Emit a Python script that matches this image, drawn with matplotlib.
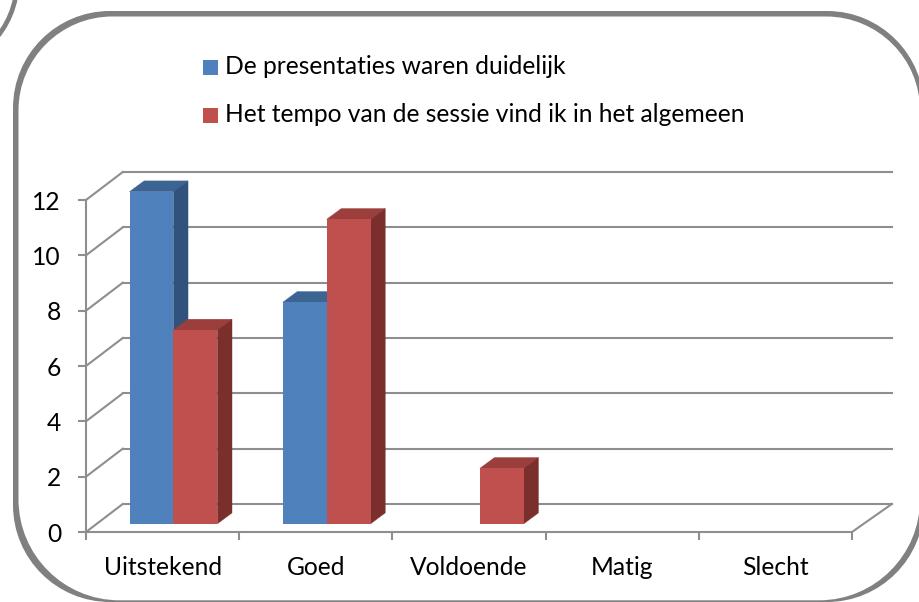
import matplotlib
matplotlib.use("Agg")
import matplotlib.pyplot as plt
from matplotlib.patches import Circle, PathPatch, Polygon, Rectangle
from matplotlib.path import Path

plt.rcParams["font.family"] = ["Lato", "DejaVu Sans"]

categories = ["Uitstekend", "Goed", "Voldoende", "Matig", "Slecht"]
presentaties = [12, 8, 0, 0, 0]
tempo = [7, 11, 2, 0, 0]
series_names = ["De presentaties waren duidelijk", "Het tempo van de sessie vind ik in het algemeen"]
yticks = [0, 2, 4, 6, 8, 10, 12]

W, H = 919, 602
FS = 17.7
GRID = "#8e8e8e"
FRAME = "#808080"
BLUE = ("#4f81bd", "#3c6493", "#30527c")
RED = ("#c0504d", "#9b3e3c", "#7a2f2d")


def rounded(l, t, r, b, rad, rad_b):
    k = rad * 0.4477
    kb = rad_b * 0.4477
    verts = [(l + rad, t), (r - rad, t), (r - k, t), (r, t + k), (r, t + rad),
             (r, b - rad_b), (r, b - kb), (r - kb, b), (r - rad_b, b),
             (l + rad_b, b), (l + kb, b), (l, b - kb), (l, b - rad_b),
             (l, t + rad), (l, t + k), (l + k, t), (l + rad, t)]
    codes = [Path.MOVETO, Path.LINETO, Path.CURVE4, Path.CURVE4, Path.CURVE4,
             Path.LINETO, Path.CURVE4, Path.CURVE4, Path.CURVE4,
             Path.LINETO, Path.CURVE4, Path.CURVE4, Path.CURVE4,
             Path.LINETO, Path.CURVE4, Path.CURVE4, Path.CURVE4]
    return Path(verts, codes)


fig = plt.figure(figsize=(W / 100, H / 100), dpi=100)

# frame and legend live in pixel coords
bg = fig.add_axes([0, 0, 1, 1])
bg.set_xlim(0, W)
bg.set_ylim(H, 0)
bg.axis("off")
bg.add_patch(PathPatch(rounded(13, 11, 924, 602, 97, 97), fc=FRAME, ec="none"))
bg.add_patch(PathPatch(rounded(18.5, 16.5, 920, 600.3, 94, 101), fc="white", ec="none"))
bg.add_patch(Circle((-72.8, -19.7), 90, fc="none", ec=FRAME, lw=3.4))

for y, name, col in zip([67, 115], series_names, [BLUE[0], RED[0]]):
    bg.add_patch(Rectangle((203, y - 7.5), 15, 15, fc=col, ec="none"))
    bg.text(225, y, name, fontsize=FS, va="center", ha="left", color="black")

# chart: x in category units, y in values
x0, x1, y0, y1 = 86, 852, 532, 200
ax = fig.add_axes([x0 / W, 1 - y0 / H, (x1 - x0) / W, (y0 - y1) / H])
ax.set_xlim(0, 5)
ax.set_ylim(0, 12)
ax.patch.set_alpha(0)
for s in ["top", "right"]:
    ax.spines[s].set_visible(False)
for s in ["left", "bottom"]:
    ax.spines[s].set_color(GRID)
    ax.spines[s].set_linewidth(1.5)

ax.set_yticks(yticks)
ax.set_xticks(range(6))
ax.set_xticklabels([])
ax.set_xticks([i + 0.5 for i in range(5)], categories, minor=True, fontsize=FS)
ax.tick_params(axis="y", length=6, width=1.5, color=GRID, labelsize=FS, pad=12)
ax.tick_params(axis="x", which="major", length=6, width=1.5, color=GRID)
ax.tick_params(axis="x", which="minor", length=0, pad=17)

# walls
back_l, back_r = 0.24, 5.26
back_dy = 1.012
for v in yticks:
    ax.plot([back_l, back_r], [v + back_dy, v + back_dy], color=GRID, lw=1.5, clip_on=False, zorder=1)
    ax.plot([0, back_l], [v, v + back_dy], color=GRID, lw=1.5, clip_on=False, zorder=1)
ax.plot([5, back_r], [0, back_dy], color=GRID, lw=1.5, clip_on=False, zorder=1)

# bars
bar_w = 0.287
start = 0.284
base = 0.30
dx = 0.095
dy = 0.39


def draw_bar(xl, v, cols, z):
    if v == 0:
        return
    ax.bar(xl, v, bar_w, bottom=base, align="edge", color=cols[0], zorder=z + 0.1, clip_on=False)
    xr = xl + bar_w
    top = base + v
    ax.add_patch(Polygon([(xl, top), (xr, top), (xr + dx, top + dy), (xl + dx, top + dy)],
                         fc=cols[1], ec=cols[1], lw=0.3, zorder=z, clip_on=False))
    ax.add_patch(Polygon([(xr, base), (xr + dx, base + dy), (xr + dx, top + dy), (xr, top)],
                         fc=cols[2], ec=cols[2], lw=0.3, zorder=z, clip_on=False))


for i in range(len(categories)):
    draw_bar(i + start, presentaties[i], BLUE, 3)
    draw_bar(i + start + bar_w, tempo[i], RED, 4)

fig.savefig("out.png", dpi=100)
